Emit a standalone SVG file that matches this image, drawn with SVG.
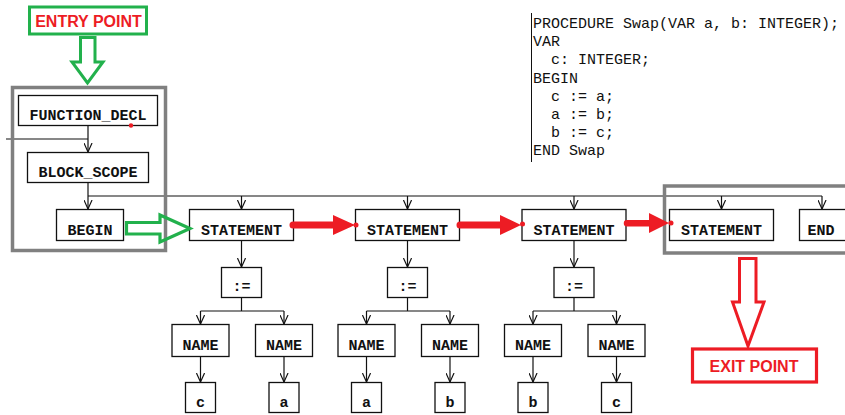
<svg xmlns="http://www.w3.org/2000/svg" width="845" height="415" viewBox="0 0 845 415">
<style>
.box{fill:#fff;stroke:#111;stroke-width:1.3}
.lbl{font-family:"Liberation Mono",monospace;font-size:15px;font-weight:bold;fill:#111;text-anchor:middle}
.code{font-family:"Liberation Mono",monospace;font-size:15px;fill:#111}
.con{fill:none;stroke:#111;stroke-width:1.2}
.arr{marker-end:url(#ah)}
.grp{fill:none;stroke:#808080;stroke-width:3.5}
.call{font-family:"Liberation Sans",Arial,sans-serif;font-size:16px;font-weight:bold;fill:#ed1c24;text-anchor:middle}
.red{fill:#ed1c24}
</style>
<defs>
<marker id="ah" viewBox="0 0 10 10" refX="10" refY="5" markerWidth="9" markerHeight="9" markerUnits="userSpaceOnUse" orient="auto">
<path d="M0,0.5 L10,5 L0,9.5" fill="none" stroke="#111" stroke-width="1.3"/>
</marker>
</defs>
<rect width="845" height="415" fill="#fff"/>

<g id="code">
<line x1="531.5" y1="13" x2="531.5" y2="162" stroke="#111" stroke-width="1"/>
<text class="code" x="533" y="28">PROCEDURE Swap(VAR a, b: INTEGER);</text>
<text class="code" x="533" y="46.2">VAR</text>
<text class="code" x="551" y="64.4">c: INTEGER;</text>
<text class="code" x="533" y="82.6">BEGIN</text>
<text class="code" x="551" y="100.8">c := a;</text>
<text class="code" x="551" y="119">a := b;</text>
<text class="code" x="551" y="137.2">b := c;</text>
<text class="code" x="533" y="155.4">END Swap</text>
</g>

<g id="connectors">
<path class="con" d="M6,139 H88"/>
<path class="con arr" d="M88,125 V152"/>
<path class="con arr" d="M88,183 V209"/>
<path class="con" d="M88,196 H822"/>
<path class="con arr" d="M241.5,196 V209"/>
<path class="con arr" d="M407.5,196 V209"/>
<path class="con arr" d="M574,196 V209"/>
<path class="con arr" d="M721.5,196 V209"/>
<path class="con arr" d="M822,196 V209"/>
<!-- subtree 1 -->
<path class="con arr" d="M241.5,241 V267"/>
<path class="con" d="M241.5,298 V311 M200.5,311 H284"/>
<path class="con arr" d="M200.5,311 V324"/>
<path class="con arr" d="M284,311 V324"/>
<path class="con arr" d="M200.5,357 V382"/>
<path class="con arr" d="M284,357 V382"/>
<!-- subtree 2 -->
<path class="con arr" d="M407.5,241 V267"/>
<path class="con" d="M407.5,298 V311 M366.5,311 H450"/>
<path class="con arr" d="M366.5,311 V324"/>
<path class="con arr" d="M450,311 V324"/>
<path class="con arr" d="M366.5,357 V382"/>
<path class="con arr" d="M450,357 V382"/>
<!-- subtree 3 -->
<path class="con arr" d="M574,241 V267"/>
<path class="con" d="M574,298 V311 M533,311 H616.5"/>
<path class="con arr" d="M533,311 V324"/>
<path class="con arr" d="M616.5,311 V324"/>
<path class="con arr" d="M533,357 V382"/>
<path class="con arr" d="M616.5,357 V382"/>
</g>

<g id="function_decl"><rect class="box" x="18.5" y="95.5" width="139" height="30"/><text class="lbl" x="88" y="120">FUNCTION_DECL</text></g>
<g id="block_scope"><rect class="box" x="27.5" y="152.5" width="121" height="30"/><text class="lbl" x="88" y="177">BLOCK_SCOPE</text></g>
<g id="begin"><rect class="box" x="56.5" y="209.5" width="67" height="31"/><text class="lbl" x="90" y="235">BEGIN</text></g>

<g id="stmt1"><rect class="box" x="189.5" y="209.5" width="104" height="31"/><text class="lbl" x="241.5" y="235">STATEMENT</text></g>
<g id="stmt2"><rect class="box" x="355.5" y="209.5" width="104" height="31"/><text class="lbl" x="407.5" y="235">STATEMENT</text></g>
<g id="stmt3"><rect class="box" x="522" y="209.5" width="104" height="31"/><text class="lbl" x="574" y="235">STATEMENT</text></g>
<g id="stmt4"><rect class="box" x="669.5" y="209.5" width="104" height="31"/><text class="lbl" x="721.5" y="235">STATEMENT</text></g>
<g id="end"><rect class="box" x="799.5" y="209.5" width="50" height="31"/><text class="lbl" x="821" y="235">END</text></g>

<g id="assign1"><rect class="box" x="221.5" y="267.5" width="40" height="30"/><text class="lbl" x="241.5" y="291">:=</text></g>
<g id="name1"><rect class="box" x="172" y="324.5" width="57" height="32"/><text class="lbl" x="200.5" y="350">NAME</text></g>
<g id="name2"><rect class="box" x="255.5" y="324.5" width="57" height="32"/><text class="lbl" x="284" y="350">NAME</text></g>
<g id="leaf_c1"><rect class="box" x="185.5" y="382.5" width="30" height="30"/><text class="lbl" x="200.5" y="407">c</text></g>
<g id="leaf_a1"><rect class="box" x="269" y="382.5" width="30" height="30"/><text class="lbl" x="284" y="407">a</text></g>

<g id="assign2"><rect class="box" x="387.5" y="267.5" width="40" height="30"/><text class="lbl" x="407.5" y="291">:=</text></g>
<g id="name3"><rect class="box" x="338" y="324.5" width="57" height="32"/><text class="lbl" x="366.5" y="350">NAME</text></g>
<g id="name4"><rect class="box" x="421.5" y="324.5" width="57" height="32"/><text class="lbl" x="450" y="350">NAME</text></g>
<g id="leaf_a2"><rect class="box" x="351.5" y="382.5" width="30" height="30"/><text class="lbl" x="366.5" y="407">a</text></g>
<g id="leaf_b2"><rect class="box" x="435" y="382.5" width="30" height="30"/><text class="lbl" x="450" y="407">b</text></g>

<g id="assign3"><rect class="box" x="554" y="267.5" width="40" height="30"/><text class="lbl" x="574" y="291">:=</text></g>
<g id="name5"><rect class="box" x="504.5" y="324.5" width="57" height="32"/><text class="lbl" x="533" y="350">NAME</text></g>
<g id="name6"><rect class="box" x="588" y="324.5" width="57" height="32"/><text class="lbl" x="616.5" y="350">NAME</text></g>
<g id="leaf_b3"><rect class="box" x="518" y="382.5" width="30" height="30"/><text class="lbl" x="533" y="407">b</text></g>
<g id="leaf_c3"><rect class="box" x="601.5" y="382.5" width="30" height="30"/><text class="lbl" x="616.5" y="407">c</text></g>

<g id="entry_group"><rect class="grp" x="12.5" y="87.5" width="153" height="163"/></g>
<g id="exit_group"><rect class="grp" x="664.5" y="186" width="190" height="67"/></g>

<g id="flow_arrows">
<circle class="red" cx="131" cy="125.5" r="2.2"/>
<path class="red" d="M293,221.5 H333 V215 L355,225 L333,235 V228.5 H293 A3.5,3.5 0 0 1 293,221.5 Z"/>
<circle class="red" cx="356" cy="225" r="2.5"/>
<path class="red" d="M460,221.5 H500 V215 L521,225 L500,235 V228.5 H460 A3.5,3.5 0 0 1 460,221.5 Z"/>
<circle class="red" cx="522.5" cy="224" r="2.5"/>
<path class="red" d="M627,220 H649 V213 L669,223 L649,233 V226.5 H627 A3.2,3.2 0 0 1 627,220 Z"/>
<circle class="red" cx="671" cy="223" r="2.5"/>
<path d="M126.5,222.5 H160 V215 L190,228.5 L160,242 V234 H126.5 Z" fill="none" stroke="#22b14c" stroke-width="3.2" stroke-linejoin="miter"/>
</g>

<g id="entry_point">
<rect x="29.5" y="7" width="117" height="27" fill="#fff" stroke="#22b14c" stroke-width="3"/>
<text class="call" x="88.5" y="27">ENTRY POINT</text>
<path d="M80.5,37.5 H95 V62 H103 L87.5,83 L72,62 H80.5 Z" fill="none" stroke="#22b14c" stroke-width="3"/>
</g>

<g id="exit_point">
<path d="M739.5,258.5 H756 V302 H764 L748,346 L732.5,302 H739.5 Z" fill="none" stroke="#ed1c24" stroke-width="3"/>
<rect x="692.5" y="349" width="124" height="33" fill="#fff" stroke="#ed1c24" stroke-width="3.2"/>
<text class="call" x="754" y="371.5">EXIT POINT</text>
</g>
</svg>
